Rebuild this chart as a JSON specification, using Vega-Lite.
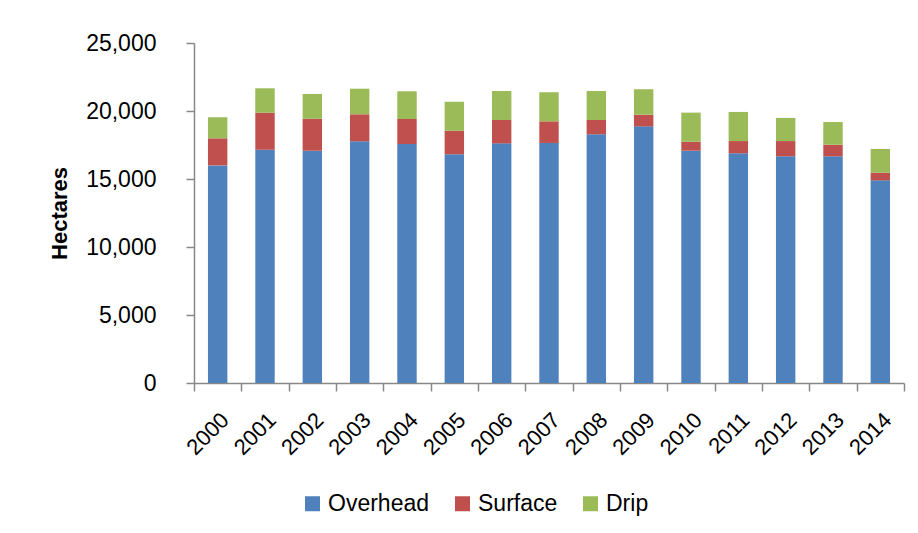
{
  "$schema": "https://vega.github.io/schema/vega-lite/v6.json",
  "width": 710,
  "height": 340,
  "autosize": {"type": "none"},
  "padding": {"left": 194, "top": 43, "right": 14, "bottom": 150},
  "background": "white",
  "config": {
    "view": {"stroke": null},
    "font": "Liberation Sans",
    "axis": {"labelFont": "Liberation Sans", "titleFont": "Liberation Sans"},
    "legend": {"labelFont": "Liberation Sans"}
  },
  "data": {
    "values": [
      {"year": "2000", "type": "Overhead", "order": 1, "value": 16000},
      {"year": "2000", "type": "Surface", "order": 2, "value": 1990},
      {"year": "2000", "type": "Drip", "order": 3, "value": 1550},
      {"year": "2001", "type": "Overhead", "order": 1, "value": 17150},
      {"year": "2001", "type": "Surface", "order": 2, "value": 2720},
      {"year": "2001", "type": "Drip", "order": 3, "value": 1800},
      {"year": "2002", "type": "Overhead", "order": 1, "value": 17080},
      {"year": "2002", "type": "Surface", "order": 2, "value": 2350},
      {"year": "2002", "type": "Drip", "order": 3, "value": 1820},
      {"year": "2003", "type": "Overhead", "order": 1, "value": 17770},
      {"year": "2003", "type": "Surface", "order": 2, "value": 1990},
      {"year": "2003", "type": "Drip", "order": 3, "value": 1880},
      {"year": "2004", "type": "Overhead", "order": 1, "value": 17570},
      {"year": "2004", "type": "Surface", "order": 2, "value": 1840},
      {"year": "2004", "type": "Drip", "order": 3, "value": 2040},
      {"year": "2005", "type": "Overhead", "order": 1, "value": 16820},
      {"year": "2005", "type": "Surface", "order": 2, "value": 1730},
      {"year": "2005", "type": "Drip", "order": 3, "value": 2130},
      {"year": "2006", "type": "Overhead", "order": 1, "value": 17620},
      {"year": "2006", "type": "Surface", "order": 2, "value": 1720},
      {"year": "2006", "type": "Drip", "order": 3, "value": 2130},
      {"year": "2007", "type": "Overhead", "order": 1, "value": 17650},
      {"year": "2007", "type": "Surface", "order": 2, "value": 1590},
      {"year": "2007", "type": "Drip", "order": 3, "value": 2140},
      {"year": "2008", "type": "Overhead", "order": 1, "value": 18290},
      {"year": "2008", "type": "Surface", "order": 2, "value": 1050},
      {"year": "2008", "type": "Drip", "order": 3, "value": 2130},
      {"year": "2009", "type": "Overhead", "order": 1, "value": 18870},
      {"year": "2009", "type": "Surface", "order": 2, "value": 860},
      {"year": "2009", "type": "Drip", "order": 3, "value": 1870},
      {"year": "2010", "type": "Overhead", "order": 1, "value": 17080},
      {"year": "2010", "type": "Surface", "order": 2, "value": 660},
      {"year": "2010", "type": "Drip", "order": 3, "value": 2140},
      {"year": "2011", "type": "Overhead", "order": 1, "value": 16890},
      {"year": "2011", "type": "Surface", "order": 2, "value": 900},
      {"year": "2011", "type": "Drip", "order": 3, "value": 2140},
      {"year": "2012", "type": "Overhead", "order": 1, "value": 16670},
      {"year": "2012", "type": "Surface", "order": 2, "value": 1120},
      {"year": "2012", "type": "Drip", "order": 3, "value": 1700},
      {"year": "2013", "type": "Overhead", "order": 1, "value": 16670},
      {"year": "2013", "type": "Surface", "order": 2, "value": 850},
      {"year": "2013", "type": "Drip", "order": 3, "value": 1670},
      {"year": "2014", "type": "Overhead", "order": 1, "value": 14900},
      {"year": "2014", "type": "Surface", "order": 2, "value": 560},
      {"year": "2014", "type": "Drip", "order": 3, "value": 1750}
    ]
  },
  "mark": {"type": "bar", "width": {"band": 0.41}},
  "encoding": {
    "x": {
      "field": "year",
      "type": "nominal",
      "scale": {"paddingInner": 0, "paddingOuter": 0},
      "axis": {
        "title": null,
        "labelAngle": -45,
        "labelFontSize": 22,
        "labelColor": "black",
        "labelPadding": 18,
        "tickBand": "extent",
        "tickSize": 8,
        "domainColor": "#888888",
        "tickColor": "#888888",
        "domainWidth": 1.5,
        "tickWidth": 1.5
      }
    },
    "y": {
      "field": "value",
      "type": "quantitative",
      "stack": "zero",
      "scale": {"domain": [0, 25000]},
      "axis": {
        "title": "Hectares",
        "titleFontSize": 22,
        "titleFontWeight": "bold",
        "titleColor": "black",
        "titlePadding": 14,
        "values": [0, 5000, 10000, 15000, 20000, 25000],
        "format": ",.0f",
        "labelFontSize": 23,
        "labelColor": "black",
        "labelPadding": 30,
        "grid": false,
        "tickSize": 8,
        "domainColor": "#888888",
        "tickColor": "#888888",
        "domainWidth": 1.5,
        "tickWidth": 1.5
      }
    },
    "color": {
      "field": "type",
      "type": "nominal",
      "scale": {
        "domain": ["Overhead", "Surface", "Drip"],
        "range": ["#4F81BD", "#C0504D", "#9BBB59"]
      },
      "legend": {
        "title": null,
        "orient": "none",
        "direction": "horizontal",
        "legendX": 107,
        "legendY": 449,
        "symbolType": "square",
        "symbolSize": 225,
        "symbolStrokeWidth": 0,
        "labelFontSize": 23,
        "labelColor": "black",
        "columnPadding": 21,
        "labelOffset": 4
      }
    },
    "order": {"field": "order", "type": "quantitative"}
  }
}
